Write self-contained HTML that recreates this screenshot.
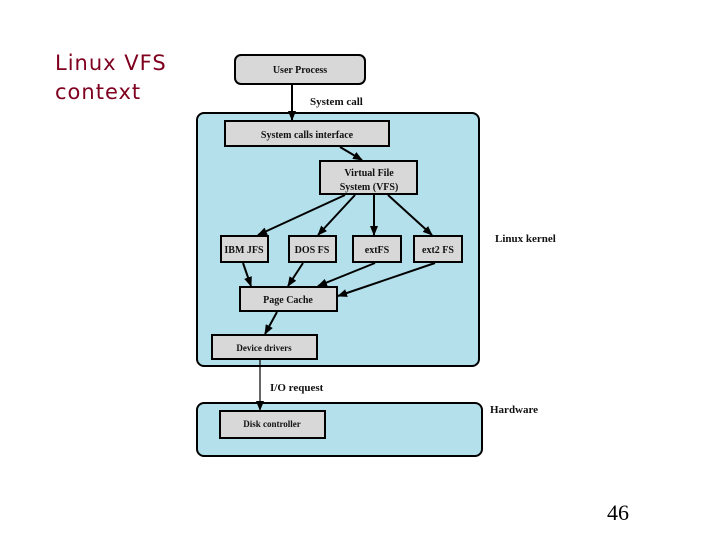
<!DOCTYPE html>
<html><head><meta charset="utf-8"><style>
html,body{margin:0;padding:0;background:#fff;}
svg{display:block}
</style></head><body>
<svg width="720" height="540" viewBox="0 0 720 540" xmlns="http://www.w3.org/2000/svg">
<defs>
<marker id="a" markerWidth="10" markerHeight="8" refX="9" refY="4" orient="auto" markerUnits="userSpaceOnUse">
<path d="M0,0 L10,4 L0,8 Z" fill="#000"/></marker>
</defs>
<text x="55" y="70" font-family="'Comic Sans MS','DejaVu Sans',sans-serif" font-size="21" letter-spacing="1" fill="#800020">Linux VFS</text>
<text x="55" y="99" font-family="'Comic Sans MS','DejaVu Sans',sans-serif" font-size="21" letter-spacing="1" fill="#800020">context</text>
<text x="607" y="520" font-family="'Liberation Serif',serif" font-size="22" fill="#000">46</text>

<g stroke="#000" stroke-width="2">
<rect x="197" y="113" width="282" height="253" rx="7" fill="#b3e0ea"/>
<rect x="197" y="403" width="285" height="53" rx="7" fill="#b3e0ea"/>
<rect x="235" y="55" width="130" height="29" rx="6" fill="#d8d8d8"/>
<rect x="225" y="121" width="164" height="25" fill="#d8d8d8"/>
<rect x="320" y="161" width="97" height="33" fill="#d8d8d8"/>
<rect x="221" y="236" width="47" height="26" fill="#d8d8d8"/>
<rect x="289" y="236" width="47" height="26" fill="#d8d8d8"/>
<rect x="353" y="236" width="48" height="26" fill="#d8d8d8"/>
<rect x="414" y="236" width="48" height="26" fill="#d8d8d8"/>
<rect x="240" y="287" width="97" height="24" fill="#d8d8d8"/>
<rect x="212" y="335" width="105" height="24" fill="#d8d8d8"/>
<rect x="220" y="411" width="105" height="27" fill="#d8d8d8"/>
</g>

<g stroke="#000" stroke-width="2" fill="none" marker-end="url(#a)">
<line x1="292" y1="84" x2="292" y2="120"/>
<line x1="340" y1="147" x2="362" y2="160"/>
<line x1="345" y1="195" x2="258" y2="235"/>
<line x1="355" y1="195" x2="318" y2="235"/>
<line x1="374" y1="195" x2="374" y2="235"/>
<line x1="388" y1="195" x2="432" y2="235"/>
<line x1="243" y1="263" x2="251" y2="286"/>
<line x1="303" y1="263" x2="288" y2="286"/>
<line x1="375" y1="263" x2="318" y2="286"/>
<line x1="435" y1="263" x2="338" y2="296"/>
<line x1="277" y1="312" x2="265" y2="334"/>
</g>
<line x1="260" y1="359" x2="260" y2="410" stroke="#000" stroke-width="1.2" marker-end="url(#a)"/>

<g font-family="'Liberation Serif',serif" font-weight="bold" font-size="10" fill="#111" text-anchor="middle">
<text x="300" y="73">User Process</text>
<text x="307" y="138">System calls interface</text>
<text x="369" y="176">Virtual File</text>
<text x="369" y="190">System (VFS)</text>
<text x="244" y="253">IBM JFS</text>
<text x="312" y="253">DOS FS</text>
<text x="377" y="253">extFS</text>
<text x="438" y="253">ext2 FS</text>
<text x="288" y="303">Page Cache</text>
<text x="264" y="351" font-size="9">Device drivers</text>
<text x="272" y="427" font-size="9">Disk controller</text>
</g>
<g font-family="'Liberation Serif',serif" font-weight="bold" font-size="11" fill="#111">
<text x="310" y="105">System call</text>
<text x="495" y="242">Linux kernel</text>
<text x="270" y="391">I/O request</text>
<text x="490" y="413">Hardware</text>
</g>
</svg>
</body></html>
